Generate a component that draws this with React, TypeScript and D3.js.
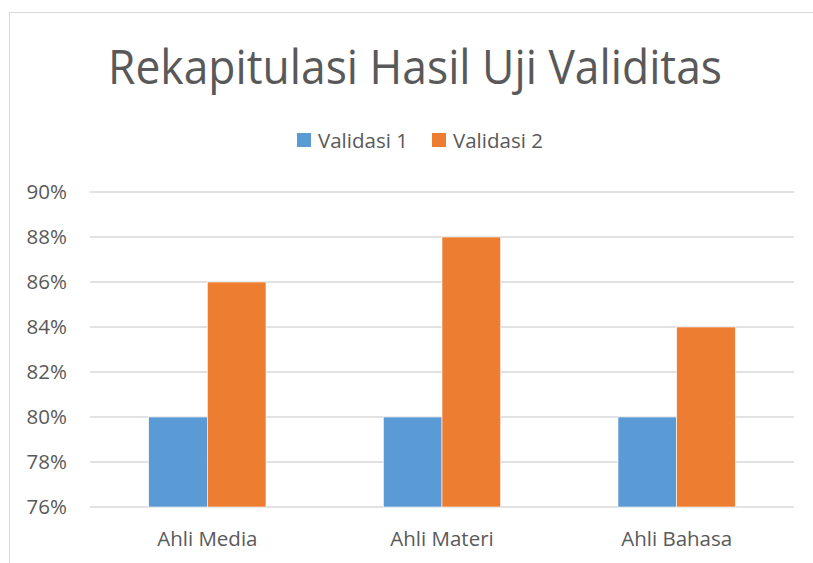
import React, { useEffect, useRef } from "react";
import * as d3 from "d3";

const categories = ["Ahli Media", "Ahli Materi", "Ahli Bahasa"];
const seriesNames = ["Validasi 1", "Validasi 2"];
const validasi1 = [80, 80, 80];
const validasi2 = [86, 88, 84];
const yTicks = [76, 78, 80, 82, 84, 86, 88, 90];
const colors = ["#5b9bd5", "#ed7d31"];

const width = 813;
const height = 563;
const font = "'Open Sans', 'Noto Sans', sans-serif";
const textColor = "#595959";
const labelSize = 20.5;

function App() {
  const svgRef = useRef<SVGSVGElement>(null);

  useEffect(() => {
    const svg = d3.select(svgRef.current);
    svg.selectAll("*").remove();

    // chart area border (runs off the page on the right and bottom)
    svg.append("rect")
      .attr("x", 9.5).attr("y", 12.5)
      .attr("width", 900).attr("height", 700)
      .attr("fill", "white")
      .attr("stroke", "#d9d9d9");

    svg.append("text")
      .attr("x", 415).attr("y", 84)
      .attr("text-anchor", "middle")
      .attr("font-family", font)
      .attr("font-size", 47)
      .attr("textLength", 614)
      .attr("lengthAdjust", "spacingAndGlyphs")
      .attr("fill", textColor)
      .text("Rekapitulasi Hasil Uji Validitas");

    const left = 90, right = 794, top = 192, bottom = 507;

    const y = d3.scaleLinear().domain([76, 90]).range([bottom, top]);
    const x0 = d3.scaleBand().domain(categories).range([left, right]).paddingInner(0.5).paddingOuter(0.25);
    const x1 = d3.scaleBand().domain(seriesNames).range([0, x0.bandwidth()]);

    // gridlines + y labels
    const grid = svg.append("g");
    grid.selectAll("line").data(yTicks).join("line")
      .attr("x1", left).attr("x2", right)
      .attr("y1", d => y(d)).attr("y2", d => y(d))
      .attr("stroke", "#d9d9d9").attr("stroke-width", 1.3);
    grid.selectAll("text").data(yTicks).join("text")
      .attr("x", 67).attr("y", d => y(d) + 7)
      .attr("text-anchor", "end")
      .attr("font-family", font).attr("font-size", labelSize)
      .attr("fill", textColor)
      .text(d => d + "%");

    const rows = categories.map((c, i) => ({ c, vals: [validasi1[i], validasi2[i]] }));
    const groups = svg.append("g").selectAll("g").data(rows).join("g")
      .attr("transform", d => `translate(${x0(d.c)},0)`);
    groups.selectAll("rect")
      .data(d => d.vals.map((v, k) => ({ v, k })))
      .join("rect")
      .attr("x", d => x1(seriesNames[d.k])!)
      .attr("width", x1.bandwidth())
      .attr("y", d => y(d.v))
      .attr("height", d => bottom - y(d.v))
      .attr("fill", d => colors[d.k])
      .attr("stroke", "white").attr("stroke-width", 0.6);

    // x labels
    svg.append("g").selectAll("text").data(categories).join("text")
      .attr("x", d => x0(d)! + x0.bandwidth() / 2)
      .attr("y", 546)
      .attr("text-anchor", "middle")
      .attr("font-family", font).attr("font-size", labelSize)
      .attr("fill", textColor)
      .text(d => d);

    // legend
    const legendX = [297, 432];
    const legend = svg.append("g").selectAll("g").data(seriesNames).join("g")
      .attr("transform", (d, i) => `translate(${legendX[i]},133)`);
    legend.append("rect").attr("width", 14).attr("height", 14)
      .attr("fill", (d, i) => colors[i]);
    legend.append("text").attr("x", 21).attr("y", 15)
      .attr("font-family", font).attr("font-size", labelSize)
      .attr("fill", textColor)
      .text(d => d);
  }, []);

  return (
    <svg ref={svgRef} width={width} height={height}
      style={{ position: "absolute", left: 0, top: 0, background: "white" }} />
  );
}

export default App;
